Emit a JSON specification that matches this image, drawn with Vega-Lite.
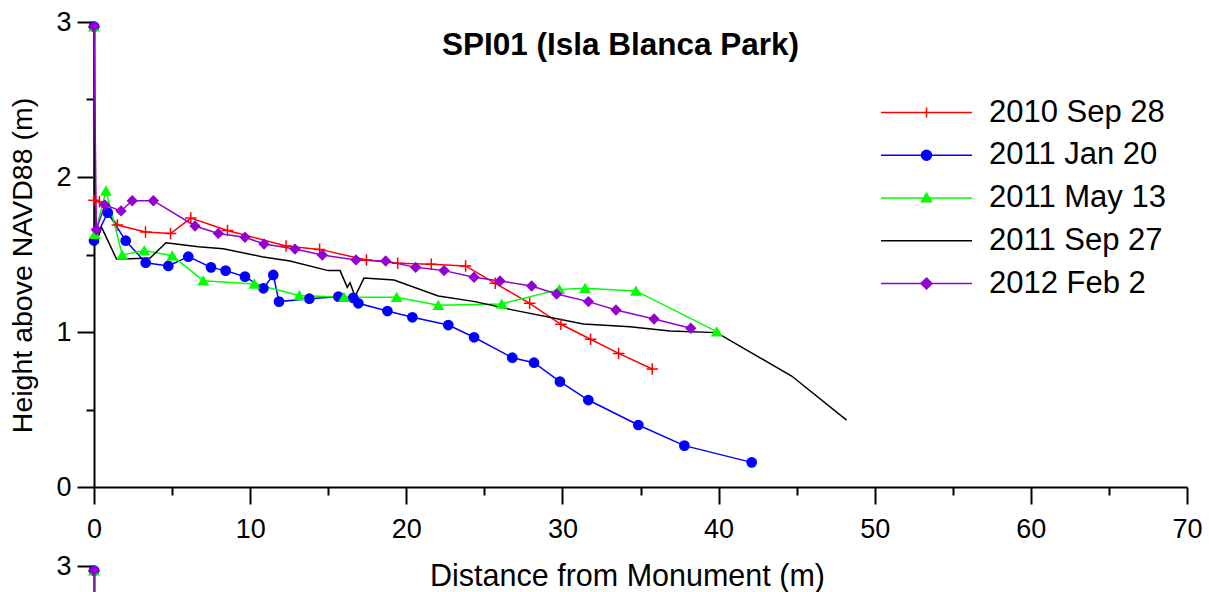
{
  "$schema": "https://vega.github.io/schema/vega-lite/v6.json",
  "background": "white",
  "autosize": {"type": "none"},
  "padding": {"left": 94, "top": 22, "right": 22, "bottom": 105},
  "width": 1093,
  "height": 465,
  "config": {
    "view": {"stroke": null},
    "font": "Liberation Sans",
    "axis": {
      "grid": false,
      "domainColor": "black",
      "domainWidth": 2,
      "tickColor": "black",
      "tickWidth": 2,
      "labelFont": "Liberation Sans",
      "labelFontSize": 27,
      "labelColor": "black",
      "labelFlush": false,
      "labelOverlap": false,
      "titleFont": "Liberation Sans",
      "titleFontSize": 30,
      "titleFontWeight": "normal",
      "titleColor": "black"
    }
  },
  "datasets": {
    "p1": [
      {"s": "2010 Sep 28", "i": 0, "x": 0, "y": 2.97},
      {"s": "2010 Sep 28", "i": 1, "x": 0, "y": 1.85},
      {"s": "2010 Sep 28", "i": 2, "x": 0.35, "y": 1.84},
      {"s": "2010 Sep 28", "i": 3, "x": 1.5, "y": 1.69},
      {"s": "2010 Sep 28", "i": 4, "x": 3.3, "y": 1.645},
      {"s": "2010 Sep 28", "i": 5, "x": 4.9, "y": 1.635},
      {"s": "2010 Sep 28", "i": 6, "x": 6.2, "y": 1.735},
      {"s": "2010 Sep 28", "i": 7, "x": 8.55, "y": 1.655},
      {"s": "2010 Sep 28", "i": 8, "x": 12.3, "y": 1.555},
      {"s": "2010 Sep 28", "i": 9, "x": 14.45, "y": 1.533},
      {"s": "2010 Sep 28", "i": 10, "x": 17.45, "y": 1.465},
      {"s": "2010 Sep 28", "i": 11, "x": 19.45, "y": 1.443},
      {"s": "2010 Sep 28", "i": 12, "x": 21.6, "y": 1.437},
      {"s": "2010 Sep 28", "i": 13, "x": 23.8, "y": 1.426},
      {"s": "2010 Sep 28", "i": 14, "x": 25.7, "y": 1.314},
      {"s": "2010 Sep 28", "i": 15, "x": 27.9, "y": 1.185},
      {"s": "2010 Sep 28", "i": 16, "x": 29.9, "y": 1.05},
      {"s": "2010 Sep 28", "i": 17, "x": 31.8, "y": 0.953},
      {"s": "2010 Sep 28", "i": 18, "x": 33.6, "y": 0.862},
      {"s": "2010 Sep 28", "i": 19, "x": 35.75, "y": 0.761},

      {"s": "2011 Jan 20", "i": 0, "x": 0, "y": 2.97},
      {"s": "2011 Jan 20", "i": 1, "x": 0, "y": 1.59},
      {"s": "2011 Jan 20", "i": 2, "x": 0.88, "y": 1.77},
      {"s": "2011 Jan 20", "i": 3, "x": 2.03, "y": 1.589},
      {"s": "2011 Jan 20", "i": 4, "x": 3.31, "y": 1.447},
      {"s": "2011 Jan 20", "i": 5, "x": 4.76, "y": 1.426},
      {"s": "2011 Jan 20", "i": 6, "x": 6.04, "y": 1.486},
      {"s": "2011 Jan 20", "i": 7, "x": 7.49, "y": 1.417},
      {"s": "2011 Jan 20", "i": 8, "x": 8.43, "y": 1.396},
      {"s": "2011 Jan 20", "i": 9, "x": 9.67, "y": 1.357},
      {"s": "2011 Jan 20", "i": 10, "x": 10.85, "y": 1.282},
      {"s": "2011 Jan 20", "i": 11, "x": 11.48, "y": 1.368},
      {"s": "2011 Jan 20", "i": 12, "x": 11.85, "y": 1.196},
      {"s": "2011 Jan 20", "i": 13, "x": 13.79, "y": 1.215},
      {"s": "2011 Jan 20", "i": 14, "x": 15.65, "y": 1.228},
      {"s": "2011 Jan 20", "i": 15, "x": 16.6, "y": 1.22},
      {"s": "2011 Jan 20", "i": 16, "x": 16.93, "y": 1.185},
      {"s": "2011 Jan 20", "i": 17, "x": 18.79, "y": 1.135},
      {"s": "2011 Jan 20", "i": 18, "x": 20.39, "y": 1.095},
      {"s": "2011 Jan 20", "i": 19, "x": 22.69, "y": 1.045},
      {"s": "2011 Jan 20", "i": 20, "x": 24.34, "y": 0.966},
      {"s": "2011 Jan 20", "i": 21, "x": 26.79, "y": 0.834},
      {"s": "2011 Jan 20", "i": 22, "x": 28.18, "y": 0.802},
      {"s": "2011 Jan 20", "i": 23, "x": 29.84, "y": 0.68},
      {"s": "2011 Jan 20", "i": 24, "x": 31.66, "y": 0.561},
      {"s": "2011 Jan 20", "i": 25, "x": 34.86, "y": 0.4},
      {"s": "2011 Jan 20", "i": 26, "x": 37.81, "y": 0.267},
      {"s": "2011 Jan 20", "i": 27, "x": 42.12, "y": 0.159},

      {"s": "2011 May 13", "i": 0, "x": 0, "y": 2.97},
      {"s": "2011 May 13", "i": 1, "x": 0.05, "y": 1.63},
      {"s": "2011 May 13", "i": 2, "x": 0.77, "y": 1.91},
      {"s": "2011 May 13", "i": 3, "x": 1.81, "y": 1.497},
      {"s": "2011 May 13", "i": 4, "x": 3.22, "y": 1.525},
      {"s": "2011 May 13", "i": 5, "x": 5.01, "y": 1.492},
      {"s": "2011 May 13", "i": 6, "x": 7.0, "y": 1.331},
      {"s": "2011 May 13", "i": 7, "x": 10.27, "y": 1.31},
      {"s": "2011 May 13", "i": 8, "x": 13.15, "y": 1.236},
      {"s": "2011 May 13", "i": 9, "x": 16.01, "y": 1.224},
      {"s": "2011 May 13", "i": 10, "x": 19.38, "y": 1.224},
      {"s": "2011 May 13", "i": 11, "x": 22.05, "y": 1.172},
      {"s": "2011 May 13", "i": 12, "x": 26.11, "y": 1.181},
      {"s": "2011 May 13", "i": 13, "x": 29.8, "y": 1.275},
      {"s": "2011 May 13", "i": 14, "x": 31.45, "y": 1.282},
      {"s": "2011 May 13", "i": 15, "x": 34.71, "y": 1.265},
      {"s": "2011 May 13", "i": 16, "x": 39.88, "y": 1.002},

      {"s": "2011 Sep 27", "i": 0, "x": 0, "y": 2.97},
      {"s": "2011 Sep 27", "i": 1, "x": 0.06, "y": 1.56},
      {"s": "2011 Sep 27", "i": 2, "x": 0.49, "y": 1.675},
      {"s": "2011 Sep 27", "i": 3, "x": 1.45, "y": 1.469},
      {"s": "2011 Sep 27", "i": 4, "x": 3.59, "y": 1.477},
      {"s": "2011 Sep 27", "i": 5, "x": 4.61, "y": 1.576},
      {"s": "2011 Sep 27", "i": 6, "x": 6.68, "y": 1.55},
      {"s": "2011 Sep 27", "i": 7, "x": 8.28, "y": 1.537},
      {"s": "2011 Sep 27", "i": 8, "x": 10.74, "y": 1.486},
      {"s": "2011 Sep 27", "i": 9, "x": 12.55, "y": 1.458},
      {"s": "2011 Sep 27", "i": 10, "x": 15.0, "y": 1.396},
      {"s": "2011 Sep 27", "i": 11, "x": 15.76, "y": 1.396},
      {"s": "2011 Sep 27", "i": 12, "x": 16.22, "y": 1.288},
      {"s": "2011 Sep 27", "i": 13, "x": 16.4, "y": 1.318},
      {"s": "2011 Sep 27", "i": 14, "x": 16.72, "y": 1.228},
      {"s": "2011 Sep 27", "i": 15, "x": 17.29, "y": 1.348},
      {"s": "2011 Sep 27", "i": 16, "x": 19.21, "y": 1.335},
      {"s": "2011 Sep 27", "i": 17, "x": 22.05, "y": 1.232},
      {"s": "2011 Sep 27", "i": 18, "x": 24.4, "y": 1.196},
      {"s": "2011 Sep 27", "i": 19, "x": 26.64, "y": 1.146},
      {"s": "2011 Sep 27", "i": 20, "x": 31.34, "y": 1.052},
      {"s": "2011 Sep 27", "i": 21, "x": 34.33, "y": 1.034},
      {"s": "2011 Sep 27", "i": 22, "x": 36.89, "y": 1.006},
      {"s": "2011 Sep 27", "i": 23, "x": 39.88, "y": 0.996},
      {"s": "2011 Sep 27", "i": 24, "x": 44.68, "y": 0.716},
      {"s": "2011 Sep 27", "i": 25, "x": 48.2, "y": 0.432},

      {"s": "2012 Feb 2", "i": 0, "x": 0, "y": 2.97},
      {"s": "2012 Feb 2", "i": 1, "x": 0.15, "y": 1.66},
      {"s": "2012 Feb 2", "i": 2, "x": 0.7, "y": 1.82},
      {"s": "2012 Feb 2", "i": 3, "x": 1.73, "y": 1.781},
      {"s": "2012 Feb 2", "i": 4, "x": 2.45, "y": 1.847},
      {"s": "2012 Feb 2", "i": 5, "x": 3.8, "y": 1.847},
      {"s": "2012 Feb 2", "i": 6, "x": 6.47, "y": 1.684},
      {"s": "2012 Feb 2", "i": 7, "x": 7.96, "y": 1.636},
      {"s": "2012 Feb 2", "i": 8, "x": 9.67, "y": 1.611},
      {"s": "2012 Feb 2", "i": 9, "x": 10.89, "y": 1.568},
      {"s": "2012 Feb 2", "i": 10, "x": 12.87, "y": 1.535},
      {"s": "2012 Feb 2", "i": 11, "x": 14.62, "y": 1.497},
      {"s": "2012 Feb 2", "i": 12, "x": 16.78, "y": 1.465},
      {"s": "2012 Feb 2", "i": 13, "x": 18.68, "y": 1.458},
      {"s": "2012 Feb 2", "i": 14, "x": 20.6, "y": 1.417},
      {"s": "2012 Feb 2", "i": 15, "x": 22.42, "y": 1.396},
      {"s": "2012 Feb 2", "i": 16, "x": 24.34, "y": 1.353},
      {"s": "2012 Feb 2", "i": 17, "x": 26.0, "y": 1.329},
      {"s": "2012 Feb 2", "i": 18, "x": 28.03, "y": 1.297},
      {"s": "2012 Feb 2", "i": 19, "x": 29.63, "y": 1.245},
      {"s": "2012 Feb 2", "i": 20, "x": 31.66, "y": 1.196},
      {"s": "2012 Feb 2", "i": 21, "x": 33.43, "y": 1.142},
      {"s": "2012 Feb 2", "i": 22, "x": 35.87, "y": 1.084},
      {"s": "2012 Feb 2", "i": 23, "x": 38.22, "y": 1.024}
    ],
    "p2": [
      {"s": "2010 Sep 28", "i": 0, "x": 0, "y": 2.97},
      {"s": "2010 Sep 28", "i": 1, "x": 0, "y": 1.6},
      {"s": "2011 Jan 20", "i": 0, "x": 0, "y": 2.97},
      {"s": "2011 Jan 20", "i": 1, "x": 0, "y": 1.6},
      {"s": "2011 May 13", "i": 0, "x": 0, "y": 2.97},
      {"s": "2011 May 13", "i": 1, "x": 0, "y": 1.6},
      {"s": "2012 Feb 2", "i": 0, "x": 0, "y": 2.97},
      {"s": "2012 Feb 2", "i": 1, "x": 0, "y": 1.6}
    ]
  },
  "title": {
    "text": "SPI01 (Isla Blanca Park)",
    "font": "Liberation Sans",
    "fontSize": 31.5,
    "fontWeight": "bold",
    "color": "black",
    "anchor": "middle",
    "frame": "group",
    "baseline": "middle",
    "offset": -23,
    "dy": 46,
    "dx": -20
  },
  "layer": [
    {
      "layer": [
        {
          "data": {"name": "p1"},
          "mark": {"type": "line", "strokeWidth": 1.5},
          "encoding": {
            "x": {"field": "x", "type": "quantitative",
              "scale": {"domain": [0, 70], "nice": false, "zero": false},
              "axis": {
                "values": [0, 5, 10, 15, 20, 25, 30, 35, 40, 45, 50, 55, 60, 65, 70],
                "labelExpr": "datum.value % 10 === 0 ? datum.label : ''",
                "tickSize": {"condition": {"test": "datum.value % 10 === 0", "value": 17}, "value": 8},
                "labelPadding": 12,
                "title": "Distance from Monument (m)",
                "titleFontSize": 30.5,
                "titleX": 533,
                "titleY": 89,
                "titleBaseline": "middle"
              }
            },
            "y": {"field": "y", "type": "quantitative",
              "scale": {"domain": [0, 3], "nice": false, "zero": false},
              "axis": {
                "orient": "left",
                "values": [0, 0.5, 1, 1.5, 2, 2.5, 3],
                "labelExpr": "datum.value % 1 === 0 ? format(datum.value, 'd') : ''",
                "tickSize": {"condition": {"test": "datum.value % 1 === 0", "value": 17}, "value": 8},
                "labelPadding": 6,
                "title": "Height above NAVD88 (m)",
                "titleFontSize": 28.5,
                "titleX": -72,
                "titleY": 243,
                "titleBaseline": "middle"
              }
            },
            "color": {"field": "s", "type": "nominal",
              "scale": {
                "domain": ["2010 Sep 28", "2011 Jan 20", "2011 May 13", "2011 Sep 27", "2012 Feb 2"],
                "range": ["#ff0000", "#0000ff", "#00ff00", "#000000", "#9400d3"]
              },
              "legend": {
                "orient": "none",
                "legendX": 817,
                "legendY": 75,
                "title": null,
                "padding": 0,
                "labelFont": "Liberation Sans",
                "labelFontSize": 31,
                "labelColor": "black",
                "labelLimit": 0,
                "labelOffset": 47,
                "rowPadding": 10.75,
                "symbolSize": 100,
                "symbolStrokeWidth": 1.5,
                "encode": {
                  "symbols": {
                    "update": {
                      "shape": {"signal": "datum.value === '2010 Sep 28' ? 'M-9.1,0H9.1M0,-1V1' : datum.value === '2011 Jan 20' ? 'M-9.1,0H9.1M-1,0A1,1,0,1,1,1,0A1,1,0,1,1,-1,0Z' : datum.value === '2011 May 13' ? 'M-9.1,0H9.1M-1,0.75L1,0.75L0,-0.95Z' : datum.value === '2012 Feb 2' ? 'M-9.1,0H9.1M0,-1.1L1.1,0L0,1.1L-1.1,0Z' : 'M-9.1,0H9.1'"},
                      "fill": {"scale": "color", "field": "value"},
                      "stroke": {"scale": "color", "field": "value"},
                      "strokeWidth": {"value": 1.5},
                      "opacity": {"value": 1},
                      "fillOpacity": {"value": 1}
                    }
                  }
                }
              }
            },
            "order": {"field": "i", "type": "quantitative"}
          }
        },
        {
          "data": {"name": "p1"},
          "transform": [{"filter": "datum.s !== '2011 Sep 27'"}],
          "mark": {"type": "point", "filled": true, "opacity": 1, "strokeWidth": 1.5, "size": 85},
          "encoding": {
            "x": {"field": "x", "type": "quantitative"},
            "y": {"field": "y", "type": "quantitative"},
            "color": {"field": "s", "type": "nominal"},
            "stroke": {"field": "s", "type": "nominal",
              "scale": {
                "domain": ["2010 Sep 28", "2011 Jan 20", "2011 May 13", "2011 Sep 27", "2012 Feb 2"],
                "range": ["#ff0000", "#0000ff", "#00ff00", "#000000", "#9400d3"]
              },
              "legend": null},
            "shape": {"field": "s", "type": "nominal",
              "scale": {
                "domain": ["2010 Sep 28", "2011 Jan 20", "2011 May 13", "2012 Feb 2"],
                "range": ["M-1.25,0H1.25M0,-1.25V1.25", "circle", "triangle-up", "diamond"]
              },
              "legend": null}
          }
        }
      ]
    },
    {
      "layer": [
        {
          "data": {"name": "p2"},
          "mark": {"type": "line", "strokeWidth": 1.5},
          "encoding": {
            "x": {"field": "x", "type": "quantitative"},
            "y": {"field": "y", "type": "quantitative",
              "scale": {"domain": [0, 3], "nice": false, "zero": false, "range": [1009, 544]},
              "axis": {
                "orient": "left",
                "values": [0, 0.5, 1, 1.5, 2, 2.5, 3],
                "labelExpr": "datum.value === 3 ? '3' : ''",
                "tickSize": {"condition": {"test": "datum.value % 1 === 0", "value": 17}, "value": 8},
                "labelPadding": 6,
                "title": null,
                "offset": 0
              }
            },
            "color": {"field": "s", "type": "nominal"},
            "order": {"field": "i", "type": "quantitative"}
          }
        },
        {
          "data": {"name": "p2"},
          "mark": {"type": "point", "filled": true, "opacity": 1, "strokeWidth": 1.5, "size": 85},
          "encoding": {
            "x": {"field": "x", "type": "quantitative"},
            "y": {"field": "y", "type": "quantitative"},
            "color": {"field": "s", "type": "nominal"},
            "stroke": {"field": "s", "type": "nominal", "legend": null},
            "shape": {"field": "s", "type": "nominal", "legend": null}
          }
        }
      ]
    }
  ],
  "resolve": {"scale": {"y": "independent"}, "axis": {"y": "independent"}}
}
